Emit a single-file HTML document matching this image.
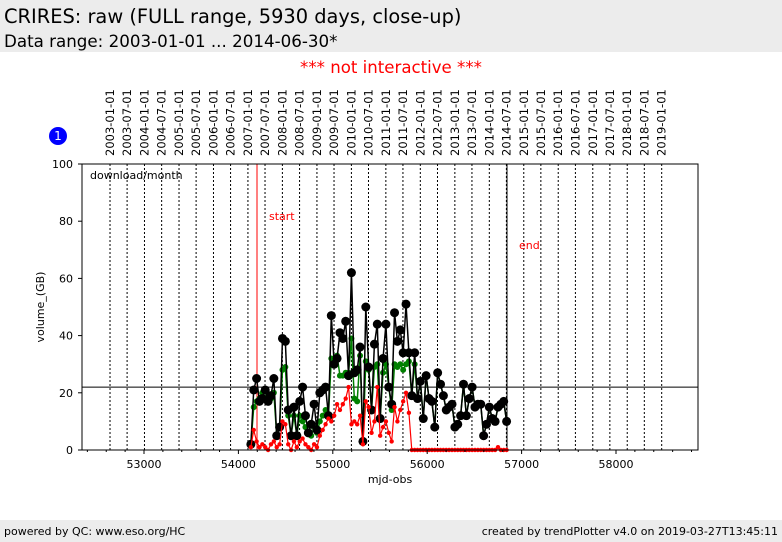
<!DOCTYPE html><html><head><meta charset="utf-8"><style>
body{margin:0;width:782px;height:542px;background:#fff;font-family:"DejaVu Sans","Liberation Sans",sans-serif;position:relative;overflow:hidden}
.hdr{position:absolute;left:0;top:0;width:782px;height:52px;background:#ececec}
.ftr{position:absolute;left:0;top:520px;width:782px;height:22px;background:#ececec;font-size:11px}
</style></head><body>
<div class="hdr">
<div style="position:absolute;left:4px;top:5px;font-size:19.4px">CRIRES: raw (FULL range, 5930 days, close-up)</div>
<div style="position:absolute;left:4px;top:31px;font-size:16.7px">Data range: 2003-01-01 ... 2014-06-30*</div>
</div>
<div style="position:absolute;left:0;width:782px;top:58px;text-align:center;color:#f00;font-size:16.6px">*** not interactive ***</div>
<div class="ftr"><span style="position:absolute;left:4px;top:5px">powered by QC: www.eso.org/HC</span><span style="position:absolute;right:4px;top:5px">created by trendPlotter v4.0 on 2019-03-27T13:45:11</span></div>
<svg id="chart" width="782" height="542" style="position:absolute;left:0;top:0" font-family="DejaVu Sans, Liberation Sans, sans-serif"></svg>
<script>
const black=[2,21,25,17,18,21,17,19,25,5,8,39,38,14,5,15,5,17,22,12,6,9,16,7,20,21,22,12,47,30,32,41,39,45,26,62,27,28,36,3,50,29,14,37,44,11,32,44,22,16,48,38,42,34,51,34,19,34,18,24,11,26,18,17,8,27,23,19,14,15,16,8,9,12,23,12,18,22,15,16,16,5,9,15,11,10,15,16,17,10];
const green=[2,15,17,18,20,18,19,18,20,5,8,28,29,12,5,12,5,12,10,8,6,5,8,6,10,12,14,12,32,32,33,26,26,27,27,39,18,17,33,3,31,28,14,29,30,11,27,30,22,14,30,29,30,28,30,31,19,30,18,24,11,26,18,17,8,27,23,19,14,15,16,8,9,12,23,12,18,22,15,16,16,5,9,15,11,10,15,16,17,10];
const red=[1,7,3,1,2,1,0,2,3,1,2,10,9,2,0,3,1,3,4,2,1,0,2,1,5,7,9,11,10,12,16,14,16,18,22,9,10,9,12,2,17,15,6,10,22,5,8,10,6,3,15,10,14,17,20,13,0,0,0,0,0,0,0,0,0,0,0,0,0,0,0,0,0,0,0,0,0,0,0,0,0,0,0,0,0,0,1,0,0,0];
const startMjd=54132, stepDays=30.44;
const xMajor=[53000,54000,55000,56000,57000,58000];
const yTicks=[0,20,40,60,80,100];
const svg=document.getElementById('chart');const NS='http://www.w3.org/2000/svg';
const L=82,R=698,T=164,B=450;
const X=m=>144+(m-53000)*0.0944, Y=v=>B-(v/100)*(B-T);
function mk(t,a,p){const e=document.createElementNS(NS,t);for(const k in a)e.setAttribute(k,a[k]);(p||svg).appendChild(e);return e;}
const toMjd=d=>(d-Date.UTC(1858,10,17))/86400000;
for(let y=2003;y<=2019;y++)for(const mo of [0,6]){if(y==2019&&mo==6)continue;
 const m=toMjd(Date.UTC(y,mo,1));const x=X(m);
 const l=mk('line',{x1:x,x2:x,y1:T,y2:B,stroke:'#000','stroke-width':1,'stroke-dasharray':'2,2'});
 
 const s=`${y}-${mo?'07':'01'}-01`;
 const t=mk('text',{x:0,y:0,'font-size':11.5,transform:`translate(${x+4},156) rotate(-90)`});t.textContent=s;
 }
let h=mk('line',{x1:L,x2:R,y1:Y(22),y2:Y(22),stroke:'#000'});
let s1=mk('line',{x1:257,x2:257,y1:T,y2:B,stroke:'#f00'});
let e1=mk('line',{x1:507,x2:507,y1:T,y2:B,stroke:'#000'});
let st=mk('text',{x:269,y:220,fill:'#f00','font-size':11});st.textContent='start';
let en=mk('text',{x:519,y:249,fill:'#f00','font-size':11});en.textContent='end';
function series(vals,col,r,w,name){const pts=vals.map((v,i)=>[X(startMjd+i*stepDays),Y(v)]);
 const p=mk('polyline',{points:pts.map(q=>q.join(',')).join(' '),fill:'none',stroke:col,'stroke-width':w});
 
 pts.forEach(q=>{const c=mk('circle',{cx:q[0],cy:q[1],r:r,fill:col});});}
series(green,'#008000',3,1.5,'green-series');
series(black,'#000',4.5,1.5,'black-series');
series(red,'#f00',2.2,1.2,'red-series');
let f=mk('rect',{x:L,y:T,width:R-L,height:B-T,fill:'none',stroke:'#000'});
yTicks.forEach(v=>{mk('line',{x1:L-4,x2:L,y1:Y(v),y2:Y(v),stroke:'#000'});const t=mk('text',{x:L-9,y:Y(v)+4,'text-anchor':'end','font-size':11});t.textContent=v;});
for(let m=52400;m<=58800;m+=200){const x=X(m);if(x<L||x>R)continue;const maj=m%1000==0;mk('line',{x1:x,x2:x,y1:B,y2:B+(maj?4:2),stroke:'#000'});}
xMajor.forEach(m=>{const t=mk('text',{x:X(m),y:B+18,'text-anchor':'middle','font-size':11});t.textContent=m;});
let xt=mk('text',{x:390,y:483,'text-anchor':'middle','font-size':11});xt.textContent='mjd-obs';
let yt=mk('text',{x:0,y:0,'text-anchor':'middle','font-size':11,transform:'translate(44,307) rotate(-90)'});yt.textContent='volume_(GB)';
let dm=mk('text',{x:90,y:179,'font-size':11});dm.textContent='download/month';
let bc=mk('circle',{cx:58,cy:136,r:9,fill:'#00f'});
let bt=mk('text',{x:58,y:140,'text-anchor':'middle','font-size':12,fill:'#fff'});bt.textContent='1';
</script></body></html>
